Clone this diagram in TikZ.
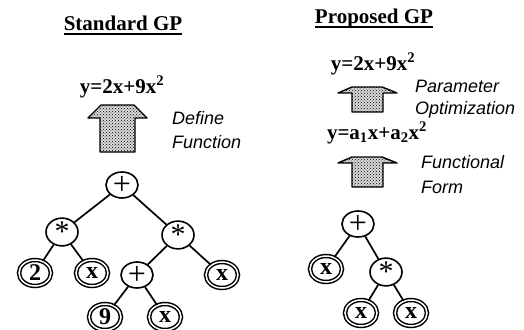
\documentclass[tikz,border=0pt]{standalone}
\usepackage{fontspec}
\setmainfont{Liberation Serif}
\setsansfont{Liberation Sans}
\usetikzlibrary{shapes.geometric,patterns}
\newcommand{\opplus}{{\fontsize{32}{32}\selectfont\raisebox{-0.02em}{+}}}
\newcommand{\opstar}{{\fontsize{30}{30}\selectfont\raisebox{-0.3em}{*}}}
\begin{document}
\begin{tikzpicture}[x=1pt,y=-1pt,
  op/.style={ellipse,draw,line width=1.6pt,minimum width=32pt,minimum height=26pt,inner sep=0pt},
  leaf/.style={ellipse,draw,double,double distance=1.5pt,line width=1.5pt,minimum width=32pt,minimum height=26pt,inner sep=0pt,font=\bfseries\fontsize{24}{24}\selectfont},
  edge/.style={line width=1.7pt},
  ttl/.style={font=\bfseries\fontsize{21}{21}\selectfont,inner sep=0pt,anchor=base},
  frm/.style={font=\bfseries\fontsize{21}{21}\selectfont,inner sep=0pt},
  lbl/.style={font=\sffamily\itshape\fontsize{18}{23}\selectfont,align=left,anchor=west,inner sep=0pt},
  bigarrow/.style={draw,line width=1.4pt,line join=round,preaction={fill=gray!30},pattern=crosshatch dots}]
\useasboundingbox (0,0) rectangle (524,329);

% ---------- left: Standard GP ----------
\node[ttl] (t1) at (123,31) {Standard GP};
\draw[line width=1.4pt] ([yshift=-3pt]t1.base west) -- ([yshift=-3pt]t1.base east);
\node[frm] (f1) at (122,87) {y=2x+9x\textsuperscript{2}};
\draw[bigarrow] (88,118) -- (101,105) -- (134,105) -- (147,118) -- (135,118) -- (135,152) -- (100,152) -- (100,118) -- cycle;
\node[lbl,font=\sffamily\itshape\fontsize{18}{24}\selectfont] (l1) at (172,130) {Define\\Function};

\node[op] (a) at (122,185) {\opplus};
\node[op] (b) at (62,232) {\opstar};
\node[op] (c) at (178,235) {\opstar};
\node[leaf] (d) at (35,273) {2};
\node[leaf] (e) at (92,273) {x};
\node[op] (f) at (137,275) {\opplus};
\node[leaf] (g) at (222,275) {x};
\node[leaf] (h) at (105,317) {9};
\node[leaf] (i) at (165,317) {x};
\draw[edge] (a) -- (b);
\draw[edge] (a) -- (c);
\draw[edge] (b) -- (d);
\draw[edge] (b) -- (e);
\draw[edge] (c) -- (f);
\draw[edge] (c) -- (g);
\draw[edge] (f) -- (h);
\draw[edge] (f) -- (i);

% ---------- right: Proposed GP ----------
\node[ttl] (t2) at (374,24) {Proposed GP};
\draw[line width=1.4pt] ([yshift=-3pt]t2.base west) -- ([yshift=-3pt]t2.base east);
\node[frm] (f2) at (373,64) {y=2x+9x\textsuperscript{2}};
\draw[bigarrow] (338,93) -- (352,87) -- (382,87) -- (397,93) -- (383,93) -- (383,112) -- (352,112) -- (352,93) -- cycle;
\node[lbl,font=\sffamily\itshape\fontsize{18}{22}\selectfont] (l2) at (415,99) {Parameter\\Optimization};
\node[frm] (f3) at (377,133) {y=a\textsubscript{1}x+a\textsubscript{2}x\textsuperscript{2}};
\draw[bigarrow] (338,163) -- (352,157) -- (382,157) -- (397,163) -- (383,163) -- (383,187) -- (352,187) -- (352,163) -- cycle;
\node[lbl,font=\sffamily\itshape\fontsize{18}{25}\selectfont] (l3) at (421,175) {Functional\\Form};

\node[op] (p) at (358,224) {\opplus};
\node[leaf] (q) at (326,269) {x};
\node[op] (r) at (386,272) {\opstar};
\node[leaf] (s) at (361,313) {x};
\node[leaf] (u) at (411,313) {x};
\draw[edge] (p) -- (q);
\draw[edge] (p) -- (r);
\draw[edge] (r) -- (s);
\draw[edge] (r) -- (u);
\end{tikzpicture}
\end{document}
